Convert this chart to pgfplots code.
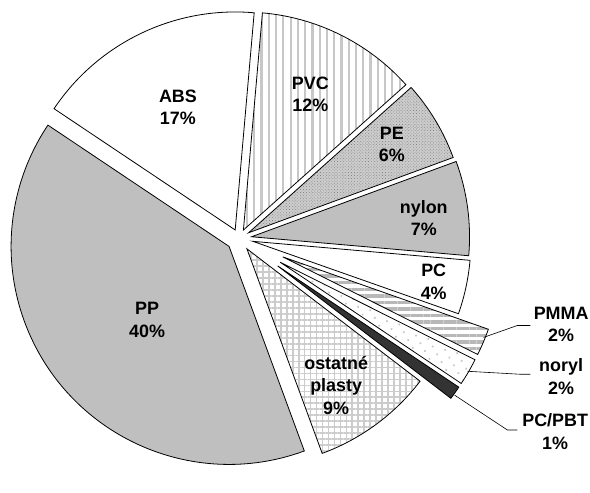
\documentclass[border=0pt]{standalone}
\usepackage{pgfplots}
\usepackage{pgfplotstable}
\pgfplotsset{compat=1.18}
\usetikzlibrary{patterns.meta}
\usepackage{fontspec}
\setmainfont{Liberation Sans}

% share (%) and explosion offset of each slice, clockwise from 85 deg
\pgfplotstableread{
name    pct explode
PVC     12  9.4
PE      6   11
nylon   7   12.5
PC      4   14
PMMA    2   47.5
noryl   2   47.5
PCPBT   1   47.5
ostatne 9   13
PP      40  13
ABS     17  9.4
}\piedata

\tikzset{
  sl/.style={draw=black, line width=0.8pt, line join=miter},
  pvc/.style={sl, preaction={fill=white}, pattern={Lines[angle=90,distance=7.3pt,line width=2.2pt]}, pattern color=black!22},
  pe/.style={sl, preaction={fill=black!20}, pattern={Dots[distance=2.2pt,radius=0.5pt,angle=45]}, pattern color=black!50},
  nylon/.style={sl, fill=black!25},
  pc/.style={sl, fill=white},
  pmma/.style={sl, preaction={fill=white}, pattern={Lines[angle=0,distance=6.6pt,line width=3.4pt]}, pattern color=black!28},
  noryl/.style={sl, preaction={fill=white}, pattern={Dots[distance=9pt,radius=1.2pt,angle=30]}, pattern color=black!22},
  pcpbt/.style={sl, fill=black!80},
  ost/.style={sl, preaction={fill=white}, pattern={Hatch[angle=0,distance=6pt,line width=1.8pt]}, pattern color=black!20},
  pp/.style={sl, fill=black!25},
  abs/.style={sl, fill=white},
  lab/.style={align=center, font=\fontsize{18}{22.5}\selectfont\bfseries, inner sep=0pt},
}

\begin{document}
\begin{tikzpicture}
\begin{axis}[
  x=1pt, y=1pt,
  xmin=0, xmax=590, ymin=0, ymax=464,
  hide axis, clip=false,
]
\path (axis cs:0,0) rectangle (axis cs:590,464);
\pgfplotsextra{
  \gdef\cum{0}
  \foreach \i in {0,...,9} {
    \pgfplotstablegetelem{\i}{pct}\of\piedata \let\pct\pgfplotsretval
    \pgfplotstablegetelem{\i}{explode}\of\piedata \let\ex\pgfplotsretval
    \pgfmathsetmacro\aone{85-3.6*\cum}
    \pgfmathsetmacro\atwo{\aone-3.6*\pct}
    \pgfmathsetmacro\bis{(\aone+\atwo)/2}
    \pgfmathsetmacro\tx{237.6+\ex*cos(\bis)}
    \pgfmathsetmacro\ty{224.5+\ex*sin(\bis)}
    \pgfmathsetmacro\newcum{\cum+\pct}\global\let\cum\newcum
    \ifcase\i\relax \tikzset{cur/.style=pvc}\or \tikzset{cur/.style=pe}\or
      \tikzset{cur/.style=nylon}\or \tikzset{cur/.style=pc}\or
      \tikzset{cur/.style=pmma}\or \tikzset{cur/.style=noryl}\or
      \tikzset{cur/.style=pcpbt}\or \tikzset{cur/.style=ost}\or
      \tikzset{cur/.style=pp}\else \tikzset{cur/.style=abs}\fi
    \draw[cur] (axis cs:\tx,\ty) -- ++(\aone:219pt)
      arc[start angle=\aone, end angle=\atwo, radius=219pt] -- cycle;
  }
}
\node[lab] at (axis cs:176,356) {ABS\\17\%};
\node[lab] at (axis cs:309,369) {PVC\\12\%};
\node[lab] at (axis cs:391,319) {PE\\6\%};
\node[lab] at (axis cs:423,245) {nylon\\7\%};
\node[lab] at (axis cs:433,181) {PC\\4\%};
\node[lab] at (axis cs:561,138) {PMMA\\2\%};
\node[lab] at (axis cs:561,85.5) {noryl\\2\%};
\node[lab] at (axis cs:555,30.5) {PC/PBT\\1\%};
\node[lab] at (axis cs:335,77) {ostatné\\plasty\\9\%};
\node[lab] at (axis cs:145,142.5) {PP\\40\%};
\draw[line width=0.6pt] (axis cs:483,125) -- (axis cs:517,137) -- (axis cs:530,137);
\draw[line width=0.6pt] (axis cs:467,91) -- (axis cs:520,88) -- (axis cs:530,88);
\draw[line width=0.6pt] (axis cs:454,67) -- (axis cs:507,32) -- (axis cs:517,32);
\end{axis}
\end{tikzpicture}
\end{document}
